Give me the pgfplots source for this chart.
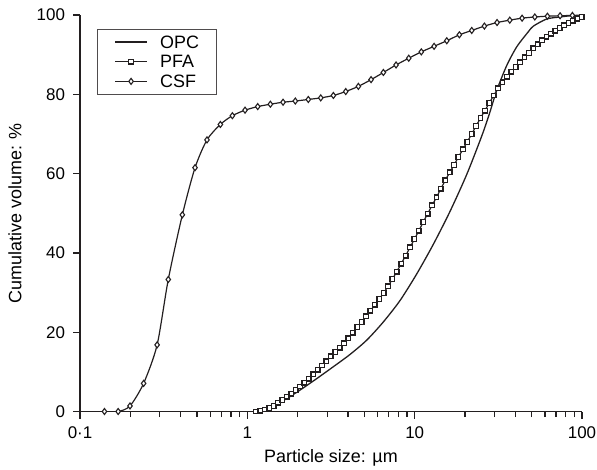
\documentclass[border=0pt]{standalone}
\usepackage{fontspec}
\setmainfont{Liberation Sans}
\setsansfont{Liberation Sans}
\usepackage{pgfplots}
\pgfplotsset{compat=1.18}

\definecolor{ink}{HTML}{231F20}

\begin{document}
\begin{tikzpicture}[font=\fontsize{18}{21}\selectfont]
\useasboundingbox (-80bp,-58.5bp) rectangle (517bp,411.5bp);
\begin{axis}[
  at={(0,0)}, anchor=south west,
  scale only axis, width=502bp, height=396.5bp,
  xmode=log, xmin=0.1, xmax=100, ymin=0, ymax=100,
  axis lines=left, axis line style={-, line width=1.9bp, ink},
  tick align=outside,
  major tick length=7bp, minor tick length=5.5bp,
  every tick/.style={line width=1.3bp, ink},
  xtick={0.1,1,10,100}, xticklabels={0·1,1,10,100},
  ytick={0,20,40,60,80,100},
  tick label style={font=\fontsize{17}{20}\selectfont},
  xticklabel style={yshift=-5bp},
  yticklabel style={xshift=-4.5bp},
  /pgf/number format/assume math mode=true,
  xlabel={Particle size: µm},
  ylabel={Cumulative volume: \%},
  xlabel style={at={(axis description cs:0.5,-0.1274)}, anchor=base},
  ylabel style={at={(axis description cs:-0.1295,0.5)}, anchor=center},
  legend image code/.code={\path (0bp,0bp);
    \draw[mark repeat=2,mark phase=2]
    plot coordinates {(5bp,0bp)(21bp,0bp)(37bp,0bp)};},
  legend cell align=left,
  legend style={at={(0.034,0.965)}, anchor=north west,
    draw=ink!80, line width=0.7bp, inner xsep=12bp, inner ysep=6.5bp,
    row sep=7.2bp,
    nodes={inner xsep=5.5bp, inner ysep=0bp, text height=12.5bp, text depth=0bp},
    /tikz/every odd column/.append style={column sep=7bp}},
]
\addplot[ink, line width=1.3bp, smooth, tension=0.45] coordinates {
  (1.127,0) (1.367,1.0) (1.680,3.0) (2.065,5.4) (2.599,8.3) (3.267,11.3)
  (4.111,14.4) (5.172,18.0) (6.502,22.6) (8.178,28.0) (10.29,34.7)
  (12.94,42.2) (16.28,50.5) (20.48,59.8) (25.18,69.5) (27.92,75.0)
  (30.95,81.0) (35.53,87.3) (40.77,92.0) (47.83,95.8) (51.23,97.2)
  (61.6,99.0) (73.98,99.5) (84.9,99.8) (100,100)
};
\addlegendentry{OPC}
\addplot[ink, line width=1.2bp, mark=square*, mark size=2.3bp,
  mark options={fill=white, line width=1.35bp}] coordinates {
  (1.127,0) (1.198,0.2) (1.273,0.5) (1.352,0.9) (1.437,1.4) (1.526,2.2)
  (1.621,2.9) (1.722,3.7) (1.830,4.5) (1.944,5.4) (2.065,6.3) (2.194,7.3)
  (2.331,8.3) (2.477,9.4) (2.631,10.5) (2.795,11.6) (2.970,12.7) (3.155,13.9)
  (3.352,15.0) (3.562,16.1) (3.784,17.2) (4.020,18.5) (4.271,19.9) (4.538,21.3)
  (4.821,22.6) (5.122,24.0) (5.442,25.4) (5.782,26.9) (6.143,28.4) (6.526,29.9)
  (6.934,31.6) (7.366,33.4) (7.826,35.3) (8.315,37.3) (8.834,39.3) (9.386,41.4)
  (9.972,43.5) (10.59,45.6) (11.26,47.8) (11.96,49.9) (12.71,52.0) (13.50,54.0)
  (14.34,56.2) (15.24,58.3) (16.19,60.3) (17.20,62.2) (18.27,64.2) (19.42,66.1)
  (20.63,68.0) (21.92,70.0) (23.28,72.0) (24.74,74.0) (26.28,75.9) (27.92,77.8)
  (29.66,79.7) (31.51,81.5) (33.48,83.0) (35.57,84.4) (37.79,85.7) (40.15,86.9)
  (42.66,88.1) (45.32,89.3) (48.15,90.4) (51.16,91.6) (54.35,92.6) (57.74,93.6)
  (61.35,94.5) (65.18,95.3) (69.24,96.0) (73.56,96.7) (78.16,97.4) (83.04,98.0)
  (88.22,98.6) (93.74,99.1) (99.59,99.5)
};
\addlegendentry{PFA}
\addplot[ink, line width=1.2bp, smooth, tension=0.45, mark=diamond*, mark size=3bp,
  mark options={fill=white, line width=1.1bp}] coordinates {
  (0.140,0) (0.169,0) (0.199,1.4) (0.240,7.1) (0.289,16.8) (0.337,33.3)
  (0.409,49.6) (0.487,61.5) (0.574,68.5) (0.690,72.4) (0.814,74.6) (0.969,76.0)
  (1.154,76.9) (1.373,77.5) (1.635,78.0) (1.936,78.3) (2.315,78.7) (2.747,79.1)
  (3.267,79.7) (3.874,80.7) (4.608,82.0) (5.489,83.7) (6.502,85.5) (7.742,87.4)
  (9.22,89.1) (10.96,90.7) (13.06,92.1) (15.56,93.5) (18.50,95.0) (21.94,96.1)
  (26.10,97.2) (31.08,98.1) (37.02,98.7) (43.85,99.2) (52.23,99.5) (62.14,99.7)
  (73.98,99.8) (87.62,99.9)
};
\addlegendentry{CSF}
\end{axis}
\end{tikzpicture}
\end{document}
